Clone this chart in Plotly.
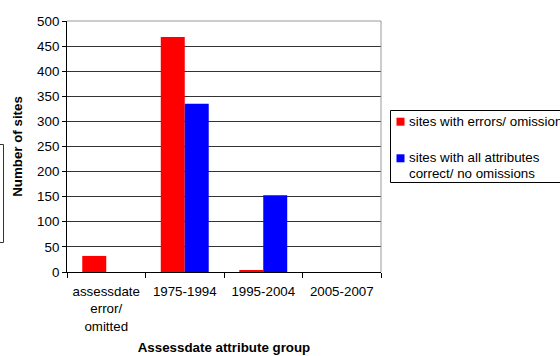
import plotly.graph_objects as go

# Site counts per assessdate attribute group
categories = ["assessdate<br>error/<br>omitted", "1975-1994", "1995-2004", "2005-2007"]
errors_counts = [32, 468, 3, 0]
correct_counts = [0, 335, 153, 0]
series_names = ["sites with errors/ omissions", "sites with all attributes<br>correct/ no omissions"]
series_colors = ["#FF0000", "#0000FF"]
y_ticks = [0, 50, 100, 150, 200, 250, 300, 350, 400, 450, 500]

FONT = "Liberation Sans, Arial, sans-serif"

fig = go.Figure()
for name, vals, col in zip(series_names, [errors_counts, correct_counts], series_colors):
    fig.add_trace(go.Bar(x=categories, y=vals, name=name, marker_color=col,
                         marker_line_width=0, showlegend=False))

# plot area: x 67..381 px, y 21..272 px
L, R, T, B = 67, 381, 21, 272
W, H = R - L, B - T

def px(x):
    return (x - L) / W

def py(y):
    return (B - y) / H

shapes = [
    # gray frame on top/right of the plot area
    dict(type="line", xref="paper", yref="paper", x0=0, x1=1, y0=1, y1=1,
         line=dict(color="#999999", width=1)),
    dict(type="line", xref="paper", yref="paper", x0=1, x1=1, y0=0, y1=1,
         line=dict(color="#999999", width=1)),
    # legend box
    dict(type="rect", xref="paper", yref="paper", x0=px(390.5), x1=px(575),
         y0=py(182.5), y1=py(110.5), line=dict(color="#000000", width=1),
         fillcolor="rgba(0,0,0,0)"),
    # partial frame at the left edge
    dict(type="rect", xref="paper", yref="paper", x0=px(-10), x1=px(3.5),
         y0=py(242.5), y1=py(144.5), line=dict(color="#333333", width=1),
         fillcolor="rgba(0,0,0,0)"),
]

# legend swatches
swatch_y = [(117.7, 125.7), (154.3, 162.3)]
for (y0, y1), col in zip(swatch_y, series_colors):
    shapes.append(dict(type="rect", xref="paper", yref="paper",
                       x0=px(396.5), x1=px(404.5), y0=py(y1), y1=py(y0),
                       line=dict(width=0), fillcolor=col))

annotations = []
line_centers = [[121.7], [157.7, 173.3]]
for name, centers in zip(series_names, line_centers):
    for text, cy in zip(name.split("<br>"), centers):
        annotations.append(dict(xref="paper", yref="paper", x=px(406.5), y=py(cy),
                                xanchor="left", yanchor="middle", showarrow=False,
                                text=text, font=dict(family=FONT, size=13.33, color="#000000")))

fig.update_layout(
    width=560, height=356,
    margin=dict(l=L, r=560 - R, t=T, b=356 - B, autoexpand=False),
    paper_bgcolor="white", plot_bgcolor="white",
    barmode="group", bargap=0.389, bargroupgap=0,
    font=dict(family=FONT, size=13.33, color="#000000"),
    shapes=shapes, annotations=annotations,
    showlegend=False,
)
fig.update_xaxes(
    showline=True, linecolor="#000000", linewidth=1,
    ticks="outside", tickson="boundaries", ticklen=5, tickcolor="#000000",
    ticklabelstandoff=7,
    showgrid=False,
    title=dict(text="<b>Assessdate attribute group</b>", font=dict(size=13.33), standoff=10),
)
fig.update_yaxes(
    range=[0, 500], tickvals=y_ticks,
    showline=True, linecolor="#000000", linewidth=1,
    ticks="outside", ticklen=4, tickcolor="#000000",
    showgrid=True, gridcolor="#333333", gridwidth=1, zeroline=False,
    title=dict(text="<b>Number of sites</b>", font=dict(size=13.33), standoff=11),
)

fig.write_html("out.html")
